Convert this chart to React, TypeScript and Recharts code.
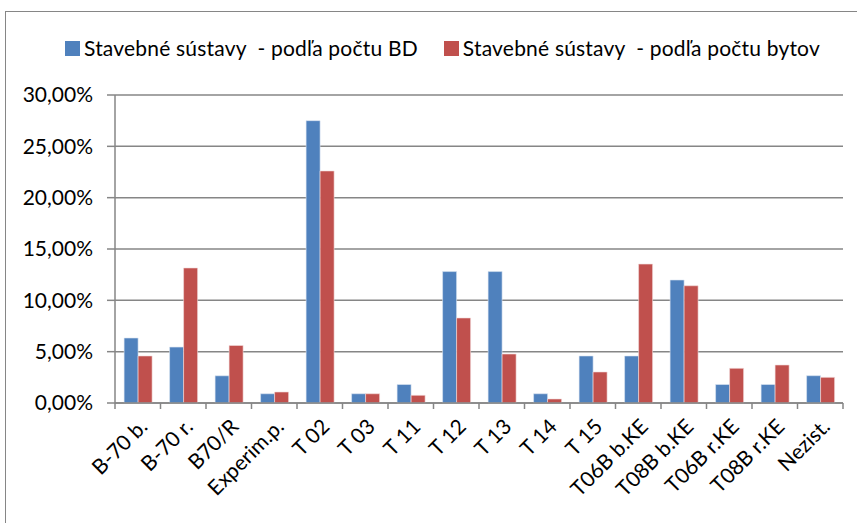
import React from 'react';
import { BarChart, Bar, XAxis, YAxis, CartesianGrid, Legend } from 'recharts';

const categories = [
    'B-70 b.', 'B-70 r.', 'B70/R', 'Experim.p.', 'T 02', 'T 03', 'T 11', 'T 12',
    'T 13', 'T 14', 'T 15', 'T06B b.KE', 'T08B b.KE', 'T06B r.KE', 'T08B r.KE', 'Nezist.',
];
const byBuildings = [6.33, 5.45, 2.65, 0.9, 27.5, 0.9, 1.8, 12.8, 12.8, 0.9, 4.58, 4.58, 11.98, 1.8, 1.8, 2.66];
const byFlats = [4.58, 13.15, 5.6, 1.07, 22.6, 0.9, 0.75, 8.28, 4.77, 0.39, 3.02, 13.53, 11.42, 3.38, 3.7, 2.5];
const yTicks = [0, 5, 10, 15, 20, 25, 30];

const seriesNames = {
    bd: 'Stavebné sústavy  - podľa počtu BD',
    byty: 'Stavebné sústavy  - podľa počtu bytov',
};

const data = categories.map((name, i) => ({ name, bd: byBuildings[i], byty: byFlats[i] }));

const FONT = 'Lato, "Open Sans", sans-serif';
const GREY = '#868686';

const formatPct = (v: number) => v.toFixed(2).replace('.', ',') + '%';

const XTick = (props: any) => {
    const { x, y, payload, index, visibleTicksCount } = props;
    const off = payload.offset ?? 0;
    const last = index === visibleTicksCount - 1;
    const tx = x + 11;
    const ty = y + 25;
    return (
        <g>
            <line x1={x - off} y1={y} x2={x - off} y2={y + 6} stroke={GREY} strokeWidth={1.5} />
            {last && <line x1={x + off} y1={y} x2={x + off} y2={y + 6} stroke={GREY} strokeWidth={1.5} />}
            <text
                x={tx}
                y={ty}
                textAnchor="end"
                transform={`rotate(-45, ${tx}, ${ty})`}
                fontFamily={FONT}
                fontSize={21}
                fill="#000"
            >
                {payload.value}
            </text>
        </g>
    );
};

const LegendContent = (props: any) => {
    const { payload } = props;
    return (
        <div style={{ display: 'flex', justifyContent: 'center', gap: 26, fontFamily: FONT, fontSize: 21, lineHeight: '24px', letterSpacing: '0.2px' }}>
            {payload.map((p: any) => (
                <div key={p.value} style={{ display: 'flex', alignItems: 'center', gap: 4 }}>
                    <span style={{ width: 15, height: 15, background: p.color, display: 'inline-block' }} />
                    <span style={{ color: '#000', whiteSpace: 'pre' }}>{p.value}</span>
                </div>
            ))}
        </div>
    );
};

export default function App() {
    return (
        <div style={{ position: 'fixed', left: 0, top: 0, width: 857, height: 523, background: '#fff', overflow: 'hidden' }}>
            <div style={{ position: 'absolute', left: 5, top: 11, width: 880, height: 600, border: `1.5px solid ${GREY}` }} />
            <BarChart
                width={857}
                height={523}
                data={data}
                margin={{ top: 71, right: 14, left: 0, bottom: 0 }}
                barCategoryGap="20%"
                barGap={0}
                style={{ position: 'absolute', left: 0, top: 0 }}
            >
                <CartesianGrid horizontal vertical={false} stroke={GREY} strokeWidth={1.5} />
                <XAxis
                    dataKey="name"
                    interval={0}
                    tickLine={false}
                    tickSize={0}
                    tickMargin={0}
                    axisLine={{ stroke: GREY, strokeWidth: 1.5 }}
                    tick={<XTick />}
                    height={120}
                />
                <YAxis
                    width={115}
                    domain={[0, 30]}
                    ticks={yTicks}
                    tickFormatter={formatPct}
                    tickSize={8}
                    tickMargin={14}
                    axisLine={{ stroke: GREY, strokeWidth: 1.5 }}
                    tickLine={{ stroke: GREY, strokeWidth: 1.5 }}
                    tick={{ fill: '#000', fontFamily: FONT, fontSize: 21 }}
                />
                <Legend
                    verticalAlign="top"
                    align="center"
                    content={<LegendContent />}
                    wrapperStyle={{ top: 36, left: 14, width: 857 }}
                />
                <Bar dataKey="bd" name={seriesNames.bd} fill="#4F81BD" stroke="#DCE6F2" strokeWidth={0.6} isAnimationActive={false} />
                <Bar dataKey="byty" name={seriesNames.byty} fill="#C0504D" stroke="#F2DCDB" strokeWidth={0.6} isAnimationActive={false} />
            </BarChart>
        </div>
    );
}
